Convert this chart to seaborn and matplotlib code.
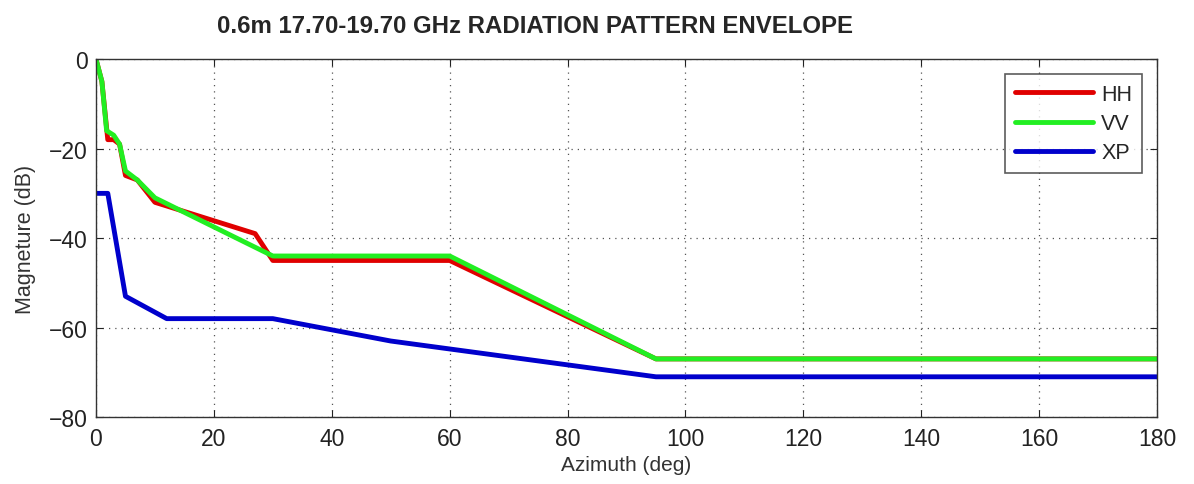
import matplotlib
matplotlib.use("Agg")
import matplotlib.pyplot as plt
import seaborn as sns
import pandas as pd

hh_az = [0, 1, 2, 3, 4, 5, 7, 10, 27, 30, 60, 95, 180]
hh_db = [0, -5, -18, -18, -19, -26, -27, -32, -39, -45, -45, -67, -67]
vv_az = [0, 1, 1.8, 3, 4, 5, 7, 10, 30, 60, 95, 180]
vv_db = [0, -5, -16, -17, -19, -25, -27, -31, -44, -44, -67, -67]
xp_az = [0, 2, 5, 12, 30, 50, 95, 180]
xp_db = [-30, -30, -53, -58, -58, -63, -71, -71]

series = ["HH", "VV", "XP"]
colors = {"HH": "#e00000", "VV": "#22ee22", "XP": "#0000cc"}

df = pd.concat([
    pd.DataFrame({"az": hh_az, "db": hh_db, "pol": "HH"}),
    pd.DataFrame({"az": vv_az, "db": vv_db, "pol": "VV"}),
    pd.DataFrame({"az": xp_az, "db": xp_db, "pol": "XP"}),
], ignore_index=True)

sns.set_style("white")
plt.rcParams["font.family"] = ["Liberation Sans", "DejaVu Sans"]

fig = plt.figure(figsize=(11.94, 4.85), dpi=100)
ax = fig.add_axes([0.0804, 0.138, 0.8886, 0.738])
sns.lineplot(data=df, x="az", y="db", hue="pol", hue_order=series,
             palette=colors, sort=False, estimator=None, linewidth=3.5, ax=ax)

ax.set_xlim(0, 180)
ax.set_ylim(-80, 0)
ax.set_xticks(range(0, 181, 20))
ax.set_yticks(range(-80, 1, 20))
ax.grid(True, linestyle=(0, (1, 4)), color="#555555", linewidth=0.9)
ax.tick_params(direction="in", length=5, labelsize=16.5, colors="#222222",
               top=True, right=True, bottom=True, left=True)
ax.tick_params(axis="x", pad=7)
ax.tick_params(axis="y", pad=6)
for s in ax.spines.values():
    s.set_color("#333333")
    s.set_linewidth(1.0)
ax.set_xlabel("Azimuth (deg)", fontsize=15, color="#333333", labelpad=4)
ax.set_ylabel("Magneture (dB)", fontsize=15.5, color="#333333", labelpad=9)

leg = ax.legend(loc="upper right", fontsize=15.5, frameon=True, fancybox=False,
                handlelength=3.6, handletextpad=0.4, borderaxespad=0.7,
                labelspacing=0.38, borderpad=0.45)
leg.get_frame().set_edgecolor("#333333")
leg.get_frame().set_linewidth(1.2)
leg.set_title(None)

fig.text(0.448, 0.945, "0.6m 17.70-19.70 GHz RADIATION PATTERN ENVELOPE",
         ha="center", va="center", fontsize=17.3, fontweight="bold")

fig.savefig("out.png", dpi=100)
